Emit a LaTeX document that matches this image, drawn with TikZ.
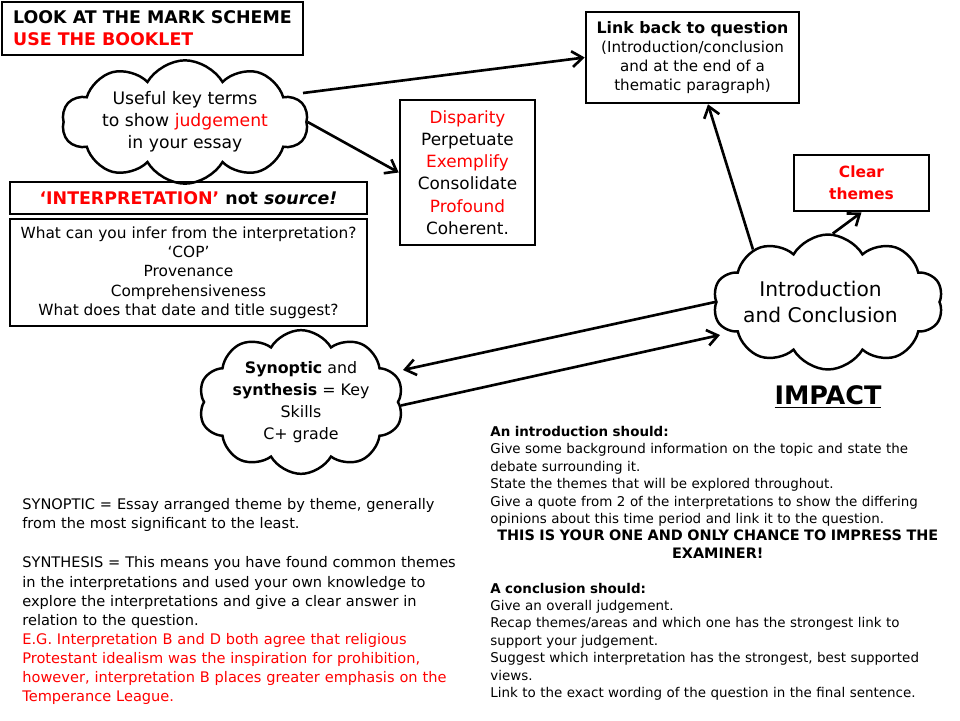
\documentclass[tikz,border=0pt]{standalone}
\usepackage{fontspec}
\setmainfont{DejaVu Sans}
\usetikzlibrary{shapes.symbols,arrows.meta}
\newcommand{\fs}[2]{\fontsize{#1}{#2}\selectfont}
\tikzset{
  box/.style={draw, line width=1.5pt, inner sep=0pt, align=center},
  puff/.style={draw, line width=1.4pt, cloud, cloud puffs=10, cloud puff arc=120,
    cloud ignores aspect, inner sep=0pt, align=center},
  link/.style={line width=1.5pt, -{Straight Barb[length=6pt,width=9pt]}}
}
\begin{document}
\begin{tikzpicture}[x=0.02cm, y=-0.02cm]
\useasboundingbox (0,0) rectangle (960,720);

% Boxes
\node[box, minimum width=6.02cm, minimum height=1.06cm, align=left,
  font=\fs{9.9}{12.5}\bfseries] (look) at (152.5,28.5)
  {LOOK AT THE MARK SCHEME\\ \textcolor{red}{USE THE BOOKLET}};
\node[box, minimum width=7.14cm, minimum height=0.64cm, font=\fs{9.9}{11}\bfseries]
  (interp) at (188.5,198) {\textcolor{red}{‘INTERPRETATION’} not \textit{source!}};
\node[box, minimum width=7.14cm, minimum height=2.14cm, font=\fs{8.75}{11}] (infer) at (188.5,272.5)
  {What can you infer from the interpretation?\\ ‘COP’\\ Provenance\\ Comprehensiveness\\
   What does that date and title suggest?};
\node[box, minimum width=2.7cm, minimum height=2.9cm, font=\fs{9.6}{12.7}] (terms) at (467.5,172.5)
  {\textcolor{red}{Disparity}\\ Perpetuate\\ \textcolor{red}{Exemplify}\\ Consolidate\\
   \textcolor{red}{Profound}\\ Coherent.};
\node[box, minimum width=4.26cm, minimum height=1.82cm, font=\fs{8.6}{10.9}] (link) at (692.5,57.5)
  {{\fs{9}{10.9}\bfseries Link back to question}\\ (Introduction/conclusion\\
   and at the end of a\\ thematic paragraph)};
\node[box, minimum width=2.7cm, minimum height=1.12cm, font=\fs{8.8}{12.5}\bfseries, text=red]
  (clear) at (861.5,183) {Clear\\ themes};

% Clouds
\node[puff, minimum width=4.92cm, minimum height=2.2cm, font=\fs{9.8}{12.5}] (keyterms) at (185,122)
  {Useful key terms\\ to show \textcolor{red}{judgement}\\ in your essay};
\node[puff, minimum width=4.6cm, minimum height=2.7cm, font=\fs{11.5}{14.7}] (intro) at (828,302)
  {\hspace*{-0.3cm}Introduction\\ \hspace*{-0.3cm}and Conclusion};
\node[puff, minimum width=4.1cm, minimum height=2.6cm, font=\fs{9}{12.5}] (synoptic) at (301,402)
  {\textbf{Synoptic} and\\ \textbf{synthesis} = Key\\ Skills\\ C+ grade};

\node[font=\fs{14.5}{17}\bfseries] (impact) at (828,397) {\underline{IMPACT}};

% Notes
\node[anchor=north west, text width=9.1cm, align=left, inner sep=0pt, font=\fs{7.65}{9.9}]
  (introtext) at (490,426)
  {\textbf{An introduction should:}\\
   Give some background information on the topic and state the\\
   debate surrounding it.\\
   State the themes that will be explored throughout.\\
   Give a quote from 2 of the interpretations to show the differing\\
   opinions about this time period and link it to the question.\par
   {\centering\fs{8.2}{9.9}\bfseries THIS IS YOUR ONE AND ONLY CHANCE TO IMPRESS THE\\ EXAMINER!\par}
   \vspace{9.9pt}
   \textbf{A conclusion should:}\\
   Give an overall judgement.\\
   Recap themes/areas and which one has the strongest link to\\
   support your judgement.\\
   Suggest which interpretation has the strongest, best supported\\
   views.\\
   Link to the exact wording of the question in the final sentence.};
\node[anchor=north west, text width=9cm, align=left, inner sep=0pt, font=\fs{8.3}{10.9}]
  (synthtext) at (22,498)
  {SYNOPTIC = Essay arranged theme by theme, generally\\
   from the most significant to the least.\\[11.5pt]
   SYNTHESIS = This means you have found common themes\\
   in the interpretations and used your own knowledge to\\
   explore the interpretations and give a clear answer in\\
   relation to the question.\\
   \color{red}E.G. Interpretation B and D both agree that religious\\
   Protestant idealism was the inspiration for prohibition,\\
   however, interpretation B places greater emphasis on the\\
   Temperance League.};

% Connectors
\draw[link] ([shift={(118,-29)}]keyterms.center) -- (link.west);
\draw[link] (keyterms.east) -- (terms.west);
\draw[link] (intro.145) -- ([xshift=0.31cm]link.south);
\draw[link] (intro.86) -- (clear.south);
\draw[link] (intro.west) -- ([shift={(102,-32)}]synoptic.center);
\draw[link] (synoptic.-2) -- ([shift={(-108,33)}]intro.center);
\end{tikzpicture}
\end{document}
